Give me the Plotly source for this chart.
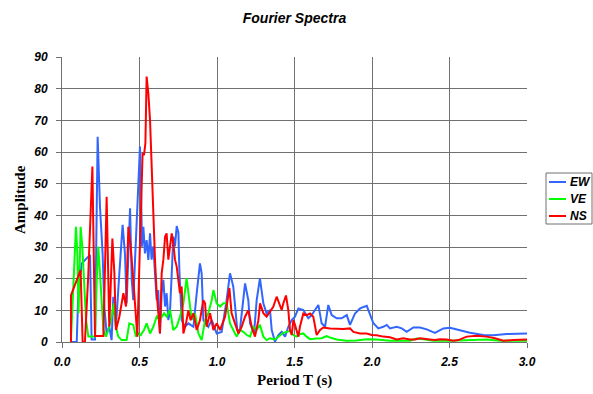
import plotly.graph_objects as go

# Fourier amplitude spectra of the three components, sampled against period T (s)
ew_period = [0.058, 0.095, 0.105, 0.127, 0.181, 0.191, 0.213, 0.23, 0.245, 0.262, 0.273, 0.288,
             0.305, 0.32, 0.331, 0.348, 0.37, 0.391, 0.406, 0.417, 0.439, 0.45, 0.46, 0.482,
             0.492, 0.503, 0.51, 0.516, 0.525, 0.535, 0.546, 0.557, 0.568, 0.578, 0.589, 0.6,
             0.611, 0.621, 0.632, 0.643, 0.654, 0.665, 0.675, 0.686, 0.697, 0.708, 0.718, 0.729,
             0.74, 0.751, 0.757, 0.772, 0.793, 0.815, 0.848, 0.869, 0.89, 0.901, 0.912, 0.944,
             0.966, 0.998, 1.03, 1.062, 1.084, 1.105, 1.131, 1.148, 1.181, 1.202, 1.213, 1.239,
             1.256, 1.277, 1.299, 1.32, 1.342, 1.353, 1.374, 1.396, 1.417, 1.439, 1.46, 1.482,
             1.503, 1.525, 1.557, 1.589, 1.611, 1.632, 1.654, 1.675, 1.697, 1.718, 1.74, 1.772,
             1.804, 1.837, 1.858, 1.89, 1.923, 1.966, 1.987, 2.009, 2.041, 2.073, 2.095, 2.116,
             2.159, 2.192, 2.224, 2.267, 2.31, 2.353, 2.406, 2.46, 2.503, 2.557, 2.632, 2.718,
             2.783, 2.869, 2.933, 3.0]
ew_amp = [0.0, 0.0, 15.4, 24.8, 27.5, 0.8, 0.8, 64.8, 42.7, 28.0, 11.2, 2.7,
          4.8, 0.6, 14.3, 4.8, 21.7, 37.0, 28.0, 12.2, 42.2, 19.6, 13.2, 38.5,
          53.3, 61.7, 48.0, 30.1, 36.4, 28.0, 32.2, 25.9, 34.3, 26.0, 30.2, 21.7,
          13.2, 16.4, 2.7, 15.4, 19.6, 11.2, 15.4, 6.9, 10.0, 21.7, 33.3, 30.2,
          36.6, 34.5, 22.8, 6.9, 4.8, 5.9, 4.8, 15.4, 24.8, 21.7, 6.9, 4.8,
          6.9, 2.7, 3.2, 13.2, 21.7, 17.5, 3.8, 3.8, 18.5, 13.2, 5.9, 2.7,
          13.2, 20.1, 12.2, 9.0, 10.1, 3.8, 0.1, 2.2, 3.2, 1.7, 4.8, 6.9,
          8.0, 10.6, 10.1, 7.5, 8.5, 10.1, 11.7, 5.9, 4.8, 11.7, 8.5, 7.5,
          7.5, 8.5, 5.4, 9.0, 10.6, 11.4, 9.0, 5.9, 4.3, 4.8, 5.4, 4.3,
          4.8, 4.3, 3.2, 4.6, 4.6, 4.0, 2.9, 4.3, 4.5, 3.8, 2.9, 2.2,
          2.1, 2.5, 2.5, 2.7]

ve_period = [0.058, 0.073, 0.09, 0.099, 0.107, 0.12, 0.131, 0.142, 0.155, 0.17, 0.191, 0.213,
             0.224, 0.234, 0.245, 0.256, 0.267, 0.284, 0.299, 0.32, 0.335, 0.348, 0.363, 0.385,
             0.417, 0.434, 0.46, 0.477, 0.492, 0.508, 0.529, 0.546, 0.568, 0.589, 0.611, 0.632,
             0.658, 0.675, 0.697, 0.718, 0.74, 0.761, 0.783, 0.804, 0.815, 0.826, 0.837, 0.858,
             0.88, 0.901, 0.923, 0.944, 0.966, 0.977, 0.998, 1.02, 1.041, 1.062, 1.084, 1.105,
             1.127, 1.148, 1.17, 1.192, 1.213, 1.235, 1.256, 1.277, 1.299, 1.32, 1.342, 1.374,
             1.406, 1.428, 1.449, 1.471, 1.493, 1.514, 1.535, 1.557, 1.578, 1.6, 1.643, 1.675,
             1.707, 1.729, 1.772, 1.837, 1.901, 1.966, 2.03, 2.116, 2.245, 2.288, 2.331, 2.396,
             2.503, 2.654, 2.74, 2.826, 3.0]
ve_amp = [0.6, 16.4, 36.4, 28.0, 9.1, 36.4, 30.1, 19.6, 7.0, 1.7, 1.7, 1.7,
          19.6, 30.1, 21.7, 11.2, 3.8, 1.7, 3.8, 8.0, 12.2, 4.8, 1.7, 0.6,
          0.6, 5.9, 5.4, 1.7, 2.7, 2.2, 3.8, 5.9, 2.7, 4.8, 8.0, 7.0,
          9.1, 8.0, 10.1, 3.8, 4.8, 8.0, 12.2, 20.1, 15.4, 11.2, 7.0, 9.1,
          2.7, 0.6, 6.9, 9.1, 13.2, 16.4, 12.2, 11.2, 12.2, 12.2, 5.9, 3.8,
          1.7, 3.8, 3.2, 2.2, 1.7, 4.8, 3.8, 5.4, 1.7, 0.6, 1.2, 0.8,
          1.9, 2.9, 3.2, 3.5, 2.2, 1.7, 2.5, 2.7, 1.7, 0.9, 1.1, 1.2,
          1.9, 1.4, 0.8, 0.4, 0.5, 0.9, 0.8, 0.4, 0.4, 1.1, 0.9, 0.4,
          0.4, 0.8, 0.8, 0.4, 0.4]

ns_period = [0.058, 0.058, 0.12, 0.133, 0.148, 0.17, 0.196, 0.204, 0.213, 0.241, 0.267, 0.288,
             0.297, 0.305, 0.325, 0.338, 0.348, 0.37, 0.396, 0.413, 0.428, 0.443, 0.46, 0.486,
             0.503, 0.52, 0.529, 0.538, 0.546, 0.557, 0.568, 0.578, 0.589, 0.6, 0.611, 0.621,
             0.632, 0.643, 0.654, 0.665, 0.675, 0.686, 0.697, 0.708, 0.718, 0.729, 0.74, 0.751,
             0.761, 0.772, 0.783, 0.8, 0.815, 0.83, 0.848, 0.869, 0.89, 0.912, 0.923, 0.933,
             0.955, 0.977, 0.998, 1.02, 1.052, 1.08, 1.094, 1.116, 1.138, 1.159, 1.181, 1.202,
             1.224, 1.245, 1.267, 1.278, 1.299, 1.32, 1.342, 1.363, 1.385, 1.406, 1.417, 1.428,
             1.445, 1.46, 1.471, 1.482, 1.493, 1.503, 1.514, 1.525, 1.535, 1.557, 1.578, 1.6,
             1.621, 1.643, 1.665, 1.686, 1.729, 1.772, 1.815, 1.858, 1.88, 1.923, 1.966, 1.998,
             2.03, 2.073, 2.116, 2.159, 2.202, 2.245, 2.277, 2.31, 2.342, 2.374, 2.406, 2.439,
             2.482, 2.525, 2.557, 2.611, 2.676, 2.74, 2.794, 2.847, 2.912, 3.0]
ns_amp = [0.0, 14.8, 22.7, 0.0, 0.0, 21.7, 55.4, 32.2, 1.9, 1.9, 1.9, 45.9,
          23.8, 4.8, 32.7, 21.7, 3.8, 8.0, 15.4, 11.2, 36.4, 30.0, 19.6, 1.7,
          31.0, 59.6, 59.0, 62.7, 83.8, 78.5, 70.0, 54.3, 38.5, 26.0, 15.4, 9.1,
          2.7, 21.7, 26.0, 33.3, 34.3, 26.0, 30.2, 34.3, 31.2, 26.0, 23.8, 19.6,
          15.4, 17.5, 2.7, 5.9, 10.0, 6.9, 9.1, 3.8, 6.9, 13.2, 12.2, 4.8,
          9.1, 3.8, 5.9, 3.8, 8.0, 17.0, 9.1, 5.9, 2.7, 4.8, 8.0, 10.0,
          4.8, 1.7, 6.9, 12.2, 9.1, 8.0, 9.5, 11.1, 14.3, 11.1, 10.1, 12.2,
          14.7, 10.1, 3.8, 2.2, 6.9, 5.4, 3.2, 1.7, 4.8, 9.0, 8.5, 9.0,
          8.0, 2.2, 3.8, 4.6, 4.3, 4.1, 4.1, 4.3, 3.2, 2.7, 2.7, 2.2,
          2.1, 1.7, 1.5, 0.8, 1.2, 0.8, 0.8, 1.2, 1.1, 0.8, 0.6, 0.9,
          0.8, 0.4, 0.6, 1.7, 2.0, 1.7, 1.2, 0.4, 0.6, 0.8]

series_names = ["EW", "VE", "NS"]
series_colors = ["#3366FF", "#00FF00", "#FF0000"]
series_data = [(ew_period, ew_amp), (ve_period, ve_amp), (ns_period, ns_amp)]

x_ticks = [0.0, 0.5, 1.0, 1.5, 2.0, 2.5, 3.0]
y_ticks = [0, 10, 20, 30, 40, 50, 60, 70, 80, 90]

fig = go.Figure()
for name, color, (px, amp) in zip(series_names, series_colors, series_data):
    fig.add_trace(go.Scatter(x=px, y=amp, mode="lines", name=name,
                             line=dict(color=color, width=2), showlegend=False))

tick_font = dict(family="Liberation Sans, Arial", size=12, color="black", weight="bold", style="italic")
grid_color = "#707070"

fig.update_layout(
    width=593, height=394,
    margin=dict(l=62, r=66, t=57, b=52),
    paper_bgcolor="white", plot_bgcolor="white",
    title=dict(text="<b><i>Fourier Spectra</i></b>", x=0.5, xref="paper",
               y=1 - 18 / 394, yanchor="middle",
               font=dict(family="Liberation Sans, Arial", size=14, color="black")),
    xaxis=dict(range=[0, 3.0], tickvals=x_ticks, ticktext=[f"{v:.1f}" for v in x_ticks],
               showgrid=True, gridcolor=grid_color, gridwidth=1,
               showline=True, linecolor=grid_color, linewidth=1,
               ticks="outside", ticklen=5, tickcolor=grid_color,
               tickfont=tick_font, zeroline=False, ticklabelstandoff=4),
    yaxis=dict(range=[0, 90], tickvals=y_ticks, ticktext=[str(v) for v in y_ticks],
               showgrid=True, gridcolor=grid_color, gridwidth=1,
               showline=True, linecolor=grid_color, linewidth=1,
               ticks="outside", ticklen=5, tickcolor=grid_color,
               tickfont=tick_font, zeroline=False, ticklabelstandoff=6),
)

# axis titles
fig.add_annotation(text="<b>Period T (s)</b>", xref="paper", yref="paper",
                   x=0.5, y=(342 - 380) / 285, xanchor="center", yanchor="middle",
                   showarrow=False,
                   font=dict(family="Liberation Serif, Times New Roman", size=15, color="black"))
fig.add_annotation(text="<b>Amplitude</b>", xref="paper", yref="paper",
                   x=(19.5 - 62) / 465, y=0.5, xanchor="center", yanchor="middle",
                   textangle=-90, showarrow=False,
                   font=dict(family="Liberation Serif, Times New Roman", size=15, color="black"))

# legend box drawn in paper coordinates
def px_x(v):
    return (v - 62) / 465

def px_y(v):
    return (342 - v) / 285

fig.add_shape(type="rect", xref="paper", yref="paper",
              x0=px_x(546), x1=px_x(592), y0=px_y(224), y1=px_y(173),
              line=dict(color="#707070", width=1), fillcolor="white")
for i, (name, color) in enumerate(zip(series_names, series_colors)):
    yy = px_y(182 + 17 * i)
    fig.add_shape(type="line", xref="paper", yref="paper",
                  x0=px_x(549), x1=px_x(566), y0=yy, y1=yy,
                  line=dict(color=color, width=2))
    fig.add_annotation(text=f"<b><i>{name}</i></b>", xref="paper", yref="paper",
                       x=px_x(568), y=yy, xanchor="left", yanchor="middle",
                       showarrow=False,
                       font=dict(family="Liberation Sans, Arial", size=12, color="black"))

fig.write_html("out.html")
